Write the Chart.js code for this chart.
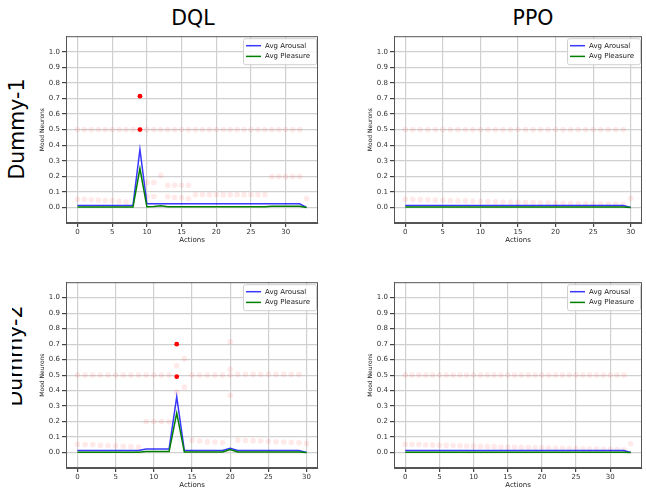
<!DOCTYPE html>
<html>
<head>
<meta charset="utf-8">
<script src="https://cdn.jsdelivr.net/npm/chart.js@4.4.1/dist/chart.umd.min.js"></script>
<style>
  body { margin: 0; background: #fff; width: 646px; height: 493px; position: relative; overflow: hidden; font-family: "DejaVu Sans", sans-serif; }
  canvas { position: absolute; }
  .title { position: absolute; font-size: 20.5px; line-height: 1; color: #000; transform: translateX(-50%); white-space: nowrap; }
  .row { position: absolute; font-size: 20.5px; line-height: 1; color: #000; white-space: nowrap; transform: translate(-50%, -50%) rotate(-90deg); }
  .clip { position: absolute; overflow: hidden; }
</style>
</head>
<body>
<div class="title" style="left:193px; top:8px;">DQL</div>
<div class="title" style="left:533px; top:8px;">PPO</div>
<div class="row" style="left:17px; top:129px;">Dummy-1</div>
<div class="clip" style="left:12px; top:280px; width:30px; height:180px;">
  <div class="row" style="left:3px; top:76px;">Dummy-2</div>
</div>

<canvas id="dqlDummy1" width="286" height="221" style="left:36px; top:30px;"></canvas>
<canvas id="ppoDummy1" width="282" height="221" style="left:364px; top:30px;"></canvas>
<canvas id="dqlDummy2" width="286" height="220" style="left:36px; top:276px;"></canvas>
<canvas id="ppoDummy2" width="282" height="220" style="left:364px; top:276px;"></canvas>

<script>
// tick labels
const xTickValues = [0, 5, 10, 15, 20, 25, 30];
const yTickValues = [0.0, 0.1, 0.2, 0.3, 0.4, 0.5, 0.6, 0.7, 0.8, 0.9, 1.0];
const seriesLabels = ['Avg Arousal', 'Avg Pleasure'];

// DQL / Dummy-1 (actions 0..33)
const dql1Arousal = [0.013, 0.013, 0.013, 0.013, 0.013, 0.013, 0.013, 0.013, 0.013, 0.372,
  0.023, 0.023, 0.023, 0.023, 0.023, 0.023, 0.023, 0.023, 0.023, 0.023, 0.023, 0.023,
  0.023, 0.023, 0.023, 0.023, 0.023, 0.023, 0.023, 0.023, 0.023, 0.023, 0.023, 0.0];
const dql1Pleasure = [0.002, 0.002, 0.002, 0.002, 0.002, 0.002, 0.002, 0.002, 0.002, 0.25,
  0.004, 0.006, 0.01, 0.005, 0.005, 0.005, 0.005, 0.005, 0.005, 0.005, 0.005, 0.005,
  0.005, 0.005, 0.005, 0.005, 0.005, 0.005, 0.007, 0.007, 0.007, 0.007, 0.007, 0.0];
const dql1NeuronsA = [0.5, 0.5, 0.5, 0.5, 0.5, 0.5, 0.5, 0.5, 0.5, 0.5, 0.5, 0.5, 0.5, 0.5, 0.5,
  0.5, 0.5, 0.5, 0.5, 0.5, 0.5, 0.5, 0.5, 0.5, 0.5, 0.5, 0.5, 0.5, 0.5, 0.5, 0.5, 0.5, 0.5, null];
const dql1NeuronsB = [0.053, 0.053, 0.049, 0.047, 0.045, 0.045, 0.040, 0.036, null, null,
  0.070, 0.070, null, 0.070, 0.064, 0.062, 0.057, 0.081, 0.081, 0.081, 0.081, 0.081,
  0.081, 0.081, 0.081, 0.081, 0.081, 0.081, null, null, null, null, null, 0.057];
const dql1NeuronsC = [null, null, null, null, null, null, null, null, null, null,
  0.160, 0.160, 0.206, 0.142, 0.142, 0.142, 0.142, null, null, null, null, null,
  null, null, null, null, null, null, 0.198, 0.198, 0.198, 0.198, 0.198, null];
const dql1PeakX = [9, 9];
const dql1PeakY = [0.5, 0.715];

// PPO / Dummy-1 (actions 0..30)
const ppo1Arousal = [0.013, 0.013, 0.013, 0.013, 0.013, 0.013, 0.013, 0.013, 0.013, 0.013,
  0.013, 0.013, 0.013, 0.013, 0.013, 0.013, 0.013, 0.013, 0.013, 0.013, 0.013, 0.013,
  0.013, 0.013, 0.013, 0.013, 0.013, 0.013, 0.013, 0.013, 0.0];
const ppo1Pleasure = [0.002, 0.002, 0.002, 0.002, 0.002, 0.002, 0.002, 0.002, 0.002, 0.002,
  0.002, 0.002, 0.002, 0.002, 0.002, 0.002, 0.002, 0.002, 0.002, 0.002, 0.002, 0.002,
  0.002, 0.002, 0.002, 0.002, 0.002, 0.002, 0.002, 0.002, 0.0];
const ppo1NeuronsA = [0.5, 0.5, 0.5, 0.5, 0.5, 0.5, 0.5, 0.5, 0.5, 0.5, 0.5, 0.5, 0.5, 0.5, 0.5,
  0.5, 0.5, 0.5, 0.5, 0.5, 0.5, 0.5, 0.5, 0.5, 0.5, 0.5, 0.5, 0.5, 0.5, 0.5, null];
const ppo1NeuronsB = [0.053, 0.052, 0.050, 0.049, 0.047, 0.046, 0.045, 0.043, 0.042, 0.040,
  0.039, 0.038, 0.036, 0.035, 0.034, 0.033, 0.032, 0.031, 0.030, 0.029, 0.028, 0.027,
  0.026, 0.025, 0.024, 0.024, 0.023, 0.022, 0.021, 0.020, 0.057];

// DQL / Dummy-2 (actions 0..30)
const dql2Arousal = [0.013, 0.013, 0.013, 0.013, 0.013, 0.013, 0.013, 0.013, 0.013,
  0.023, 0.023, 0.023, 0.023, 0.360, 0.013, 0.013, 0.013, 0.013, 0.013, 0.013, 0.028,
  0.013, 0.013, 0.013, 0.013, 0.013, 0.013, 0.013, 0.013, 0.013, 0.0];
const dql2Pleasure = [0.002, 0.002, 0.002, 0.002, 0.002, 0.002, 0.002, 0.002, 0.002,
  0.006, 0.006, 0.006, 0.006, 0.254, 0.004, 0.004, 0.004, 0.004, 0.004, 0.004, 0.020,
  0.004, 0.004, 0.004, 0.004, 0.004, 0.004, 0.004, 0.004, 0.004, 0.0];
const dql2NeuronsA = [0.5, 0.5, 0.5, 0.5, 0.5, 0.5, 0.5, 0.5, 0.5, 0.5, 0.5, 0.5, 0.5,
  null, null, 0.5, 0.5, 0.5, 0.5, 0.5, 0.5,
  0.505, 0.505, 0.505, 0.505, 0.505, 0.505, 0.505, 0.505, 0.505, null];
const dql2NeuronsB = [0.053, 0.051, 0.051, 0.047, 0.045, 0.043, 0.040, 0.038, 0.036,
  null, null, null, null, null, null, 0.080, 0.074, 0.070, 0.068, 0.063, null,
  0.080, 0.078, 0.076, 0.074, 0.072, 0.070, 0.068, 0.066, 0.063, 0.059];
const dql2NeuronsC = [null, null, null, null, null, null, null, null, null,
  0.2, 0.2, 0.2, 0.2, 0.56, 0.605, null, null, null, null, null, 0.715,
  null, null, null, null, null, null, null, null, null, null];
const dql2NeuronsD = [null, null, null, null, null, null, null, null, null,
  null, null, null, null, 0.39, 0.423, null, null, null, null, null, 0.537,
  null, null, null, null, null, null, null, null, null, null];
const dql2NeuronsE = [null, null, null, null, null, null, null, null, null,
  null, null, null, null, null, null, null, null, null, null, null, 0.37,
  null, null, null, null, null, null, null, null, null, null];
const dql2PeakX = [13, 13];
const dql2PeakY = [0.49, 0.70];

// PPO / Dummy-2 (actions 0..33)
const ppo2Arousal = [0.013, 0.013, 0.013, 0.013, 0.013, 0.013, 0.013, 0.013, 0.013, 0.013,
  0.013, 0.013, 0.013, 0.013, 0.013, 0.013, 0.013, 0.013, 0.013, 0.013, 0.013, 0.013,
  0.013, 0.013, 0.013, 0.013, 0.013, 0.013, 0.013, 0.013, 0.013, 0.013, 0.013, 0.0];
const ppo2Pleasure = [0.002, 0.002, 0.002, 0.002, 0.002, 0.002, 0.002, 0.002, 0.002, 0.002,
  0.002, 0.002, 0.002, 0.002, 0.002, 0.002, 0.002, 0.002, 0.002, 0.002, 0.002, 0.002,
  0.002, 0.002, 0.002, 0.002, 0.002, 0.002, 0.002, 0.002, 0.002, 0.002, 0.002, 0.0];
const ppo2NeuronsA = [0.5, 0.5, 0.5, 0.5, 0.5, 0.5, 0.5, 0.5, 0.5, 0.5, 0.5, 0.5, 0.5, 0.5, 0.5,
  0.5, 0.5, 0.5, 0.5, 0.5, 0.5, 0.5, 0.5, 0.5, 0.5, 0.5, 0.5, 0.5, 0.5, 0.5, 0.5, 0.5, 0.5, null];
const ppo2NeuronsB = [0.053, 0.052, 0.051, 0.049, 0.048, 0.047, 0.046, 0.045, 0.043, 0.042,
  0.041, 0.040, 0.039, 0.038, 0.036, 0.035, 0.034, 0.033, 0.032, 0.031, 0.030, 0.029,
  0.028, 0.027, 0.026, 0.025, 0.024, 0.023, 0.022, 0.021, 0.020, 0.019, 0.018, 0.057];

// turn an index-based array into {x,y} points, skipping gaps
function toPoints(values) {
  const pts = [];
  values.forEach((v, i) => { if (v !== null) pts.push({ x: i, y: v }); });
  return pts;
}

// full box round the plot + matplotlib-like legend in the upper right
const frameAndLegend = {
  id: 'frameAndLegend',
  afterDraw(chart) {
    const ctx = chart.ctx;
    const a = chart.chartArea;
    ctx.save();
    ctx.strokeStyle = '#555';
    ctx.lineWidth = 1;
    ctx.strokeRect(a.left + 0.5, a.top + 0.5, a.width - 1, a.height - 1);

    const bw = 73, bh = 26;
    const bx = a.right - bw - 2, by = a.top + 2;
    ctx.beginPath();
    ctx.roundRect(bx + 0.5, by + 0.5, bw, bh, 2);
    ctx.fillStyle = 'rgba(255,255,255,0.85)';
    ctx.fill();
    ctx.strokeStyle = '#d0d0d0';
    ctx.stroke();

    const entries = chart.data.datasets.filter(d => d.label);
    ctx.font = '7px "DejaVu Sans"';
    ctx.textBaseline = 'middle';
    entries.forEach((d, i) => {
      const y = by + 7.5 + i * 10.7;
      ctx.beginPath();
      ctx.moveTo(bx + 3, y);
      ctx.lineTo(bx + 18, y);
      ctx.strokeStyle = d.borderColor;
      ctx.lineWidth = 1.5;
      ctx.stroke();
      ctx.fillStyle = '#222';
      ctx.fillText(d.label, bx + 22, y);
    });
    ctx.restore();
  }
};

function makePanel(canvasId, arousal, pleasure, neuronRows, peakX, peakY, padRight) {
  const last = arousal.length - 1;
  const faint = [];
  neuronRows.forEach(r => faint.push(...toPoints(r)));
  const peaks = peakX.map((x, i) => ({ x: x, y: peakY[i] }));

  new Chart(document.getElementById(canvasId), {
    type: 'line',
    data: {
      datasets: [
        { label: seriesLabels[0], data: toPoints(arousal), borderColor: 'rgba(0,0,255,0.78)',
          borderWidth: 1.5, pointRadius: 0, tension: 0, fill: false, order: 1 },
        { label: seriesLabels[1], data: toPoints(pleasure), borderColor: 'rgb(0,128,0)',
          borderWidth: 1.5, pointRadius: 0, tension: 0, fill: false, order: 0 },
        { type: 'scatter', data: faint, backgroundColor: 'rgba(255,0,0,0.085)',
          borderWidth: 0, pointRadius: 2.8, order: 3 },
        { type: 'scatter', data: peaks, backgroundColor: 'rgb(255,0,0)',
          borderWidth: 0, pointRadius: 2.4, order: 2 }
      ]
    },
    options: {
      responsive: false,
      animation: false,
      events: [],
      layout: { padding: { top: 4, right: padRight, left: 0, bottom: 0 } },
      plugins: { legend: { display: false }, tooltip: { enabled: false } },
      scales: {
        x: {
          type: 'linear',
          min: -0.05 * last,
          max: 1.05 * last,
          afterBuildTicks: s => { s.ticks = xTickValues.map(v => ({ value: v })); },
          afterFit: s => { s.height = 28; },
          ticks: { autoSkip: false, maxRotation: 0, padding: 1, color: '#333',
                   font: { family: 'DejaVu Sans', size: 7 }, callback: v => String(v) },
          grid: { color: '#d0d0d0', lineWidth: 1.2, tickColor: '#444', tickLength: 4 },
          border: { display: true, color: '#555' },
          title: { display: true, text: 'Actions', color: '#222',
                   font: { family: 'DejaVu Sans', size: 7 }, padding: { top: 0, bottom: 6.3 } }
        },
        y: {
          min: -0.1,
          max: 1.1,
          afterBuildTicks: s => { s.ticks = yTickValues.map(v => ({ value: v })); },
          afterFit: s => { s.width = 30; },
          ticks: { padding: 2, color: '#333', font: { family: 'DejaVu Sans', size: 7 },
                   callback: v => v.toFixed(1) },
          grid: { color: '#d0d0d0', lineWidth: 1.2, tickColor: '#444', tickLength: 4 },
          border: { display: true, color: '#555' },
          title: { display: true, text: 'Mood Neurons', color: '#222',
                   font: { family: 'DejaVu Sans', size: 6 }, padding: { top: 3, bottom: 0 } }
        }
      }
    },
    plugins: [frameAndLegend]
  });
}

makePanel('dqlDummy1', dql1Arousal, dql1Pleasure, [dql1NeuronsA, dql1NeuronsB, dql1NeuronsC], dql1PeakX, dql1PeakY, 3);
makePanel('ppoDummy1', ppo1Arousal, ppo1Pleasure, [ppo1NeuronsA, ppo1NeuronsB], [], [], 1);
makePanel('dqlDummy2', dql2Arousal, dql2Pleasure, [dql2NeuronsA, dql2NeuronsB, dql2NeuronsC, dql2NeuronsD, dql2NeuronsE], dql2PeakX, dql2PeakY, 3);
makePanel('ppoDummy2', ppo2Arousal, ppo2Pleasure, [ppo2NeuronsA, ppo2NeuronsB], [], [], 1);
</script>
</body>
</html>
